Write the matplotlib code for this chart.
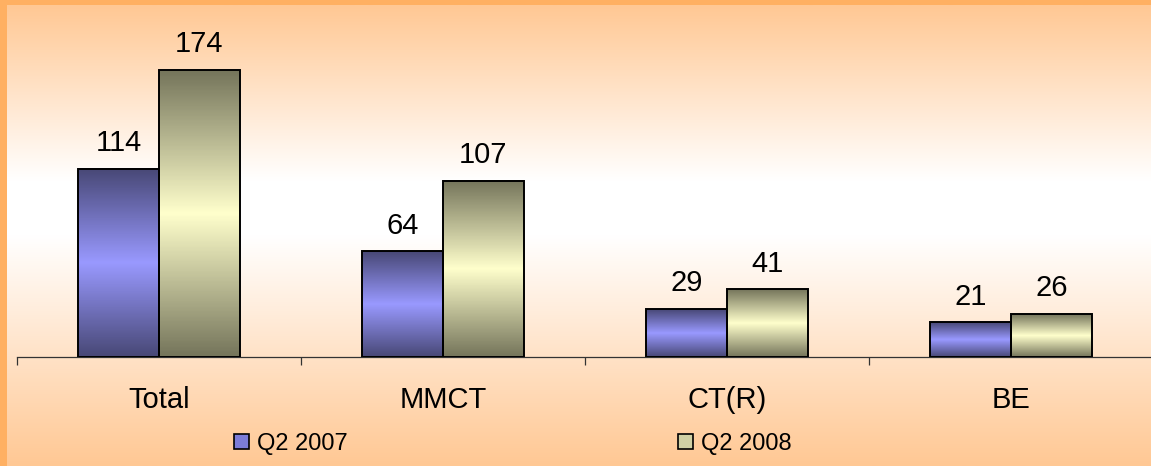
import numpy as np
import matplotlib
matplotlib.use("Agg")
import matplotlib.pyplot as plt
from matplotlib.colors import LinearSegmentedColormap
from matplotlib.patches import Rectangle

plt.rcParams['font.family'] = ['Liberation Sans', 'DejaVu Sans']

# data
categories = ['Total', 'MMCT', 'CT(R)', 'BE']
q2_2007 = [114, 64, 29, 21]
q2_2008 = [174, 107, 41, 26]
series_names = ['Q2 2007', 'Q2 2008']

W, H = 1151, 466
fig = plt.figure(figsize=(W / 100, H / 100), dpi=100)

# background gradient + orange frame
bg = fig.add_axes([0, 0, 1, 1], zorder=-10)
bg_cmap = LinearSegmentedColormap.from_list(
    'bg', [(0.0, '#ffc894'), (0.38, '#ffffff'), (0.50, '#ffffff'), (1.0, '#ffc894')])
grad = np.linspace(0, 1, 256).reshape(-1, 1)
bg.imshow(grad, extent=[0, W, H, 5], aspect='auto', cmap=bg_cmap)
bg.add_patch(Rectangle((0, 0), 7, H, color='#ffb062', lw=0))
bg.add_patch(Rectangle((0, 0), W, 5, color='#ffb062', lw=0))
bg.set_xlim(0, W)
bg.set_ylim(H, 0)
bg.axis('off')

# main axes
ax = fig.add_axes([17 / W, 1 - 357 / H, 1136 / W, 352 / H])
ax.set_facecolor('none')

blue_cmap = LinearSegmentedColormap.from_list('b', ['#484876', '#9999ff', '#484876'])
olive_cmap = LinearSegmentedColormap.from_list('o', ['#75755b', '#ffffcc', '#75755b'])
bw = 0.285
x = np.arange(len(categories))
bar_grad = np.linspace(0, 1, 200).reshape(-1, 1)

for vals, offs, cmap in [(q2_2007, -bw, blue_cmap), (q2_2008, 0.0, olive_cmap)]:
    for xi, v in zip(x, vals):
        x0 = xi + offs
        ax.imshow(bar_grad, extent=[x0, x0 + bw, 0, v], aspect='auto', cmap=cmap, zorder=2)
    ax.bar(x + offs, vals, width=bw, align='edge', facecolor='none',
           edgecolor='black', linewidth=1.4, zorder=3)
    for xi, v in zip(x, vals):
        ax.annotate(str(v), (xi + offs + bw / 2, v), xytext=(0, 8.5), textcoords='offset points',
                    ha='center', va='bottom', fontsize=21)

ax.set_xlim(-0.5, len(categories) - 0.5)
ax.set_ylim(0, 352 * 174 / 287)
for s in ['top', 'left', 'right']:
    ax.spines[s].set_visible(False)
ax.spines['bottom'].set_color('#333333')
ax.spines['bottom'].set_linewidth(0.9)
ax.set_yticks([])
ax.set_xticks(x)
ax.set_xticklabels(categories, fontsize=21)
ax.tick_params(axis='x', which='major', length=0, pad=21)
ax.set_xticks(np.arange(-0.5, len(categories)), minor=True)
ax.tick_params(axis='x', which='minor', length=6, width=0.9, color='#333333')

# legend
handles = [Rectangle((0, 0), 1, 1, facecolor='#7c7cd8', edgecolor='black', lw=1.2),
           Rectangle((0, 0), 1, 1, facecolor='#d0d0a4', edgecolor='black', lw=1.2)]
fig.legend(handles, series_names, loc='center left', bbox_to_anchor=(234 / W, 1 - 444 / H),
           ncol=2, frameon=False, fontsize=17, handlelength=0.62, handleheight=0.62,
           handletextpad=0.34, columnspacing=14.0, borderpad=0, borderaxespad=0)

fig.savefig('out.png', dpi=100)
